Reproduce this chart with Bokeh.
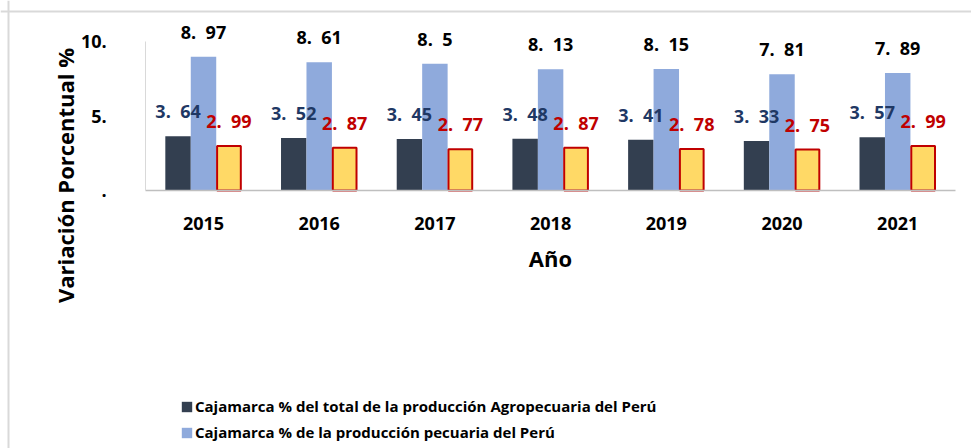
import math
from bokeh.plotting import figure
from bokeh.models import ColumnDataSource, FixedTicker, Label, Legend, LegendItem, Span, Range1d
from bokeh.transform import dodge
from bokeh.core.properties import value
from bokeh.embed import file_html
from bokeh.resources import INLINE

years = ["2015", "2016", "2017", "2018", "2019", "2020", "2021"]
agro_total = [3.64, 3.52, 3.45, 3.48, 3.41, 3.33, 3.57]
pecuaria = [8.97, 8.61, 8.5, 8.13, 8.15, 7.81, 7.89]
tercera = [2.99, 2.87, 2.77, 2.87, 2.78, 2.75, 2.99]

legend_labels = [
    "Cajamarca % del total de la producción Agropecuaria del Perú",
    "Cajamarca % de la producción pecuaria del Perú",
]
y_ticks = [0, 5, 10]
y_tick_labels = {0: ".", 5: "5.", 10: "10."}


def fmt(v):
    s = f"{v:.2f}".rstrip("0")
    a, b = s.split(".")
    return f"{a}.\u00a0\u00a0{b}"


xi = list(range(len(years)))
src = ColumnDataSource(dict(
    xi=xi,
    a=agro_total, b=pecuaria, c=tercera,
    la=[fmt(v) for v in agro_total],
    lb=[fmt(v) for v in pecuaria],
    lc=[fmt(v) for v in tercera],
))

FONT = "Open Sans"
W, H = 971, 448
# pixel geometry of the plot area on the canvas
PX_CAT = 115.7      # px per category
X0_PX = 203.0       # px of first category centre
PX_UNIT = 14.9      # px per y unit
Y0_PX = 190.0       # px of y = 0 (from top)

x_range = Range1d(-X0_PX / PX_CAT, (W - X0_PX) / PX_CAT)
y_range = Range1d(-(H - Y0_PX) / PX_UNIT, Y0_PX / PX_UNIT)

p = figure(x_range=x_range, y_range=y_range, width=W, height=H,
           output_backend="svg", toolbar_location=None,
           min_border=0, min_border_left=0, min_border_right=0,
           min_border_top=0, min_border_bottom=0)
p.outline_line_color = None
p.xgrid.grid_line_color = None
p.ygrid.grid_line_color = None

# outer chart border (left and top edges visible)
p.add_layout(Span(location=(Y0_PX - 11) / PX_UNIT, dimension="width",
                  line_color="#D9D9D9", line_width=2))
p.add_layout(Span(location=(8 - X0_PX) / PX_CAT, dimension="height",
                  line_color="#D9D9D9", line_width=2))

bw = 0.22
r1 = p.vbar(x=dodge("xi", -bw), top="a", width=bw, source=src,
            fill_color="#333F50", line_color=None)
r2 = p.vbar(x=dodge("xi", 0), top="b", width=bw, source=src,
            fill_color="#8FAADC", line_color=None)
r3 = p.vbar(x=dodge("xi", bw), top="c", width=bw - 0.015, source=src,
            fill_color="#FFD966", line_color="#C00000", line_width=2)

common = dict(source=src, text_font=value(FONT), text_font_style="bold",
              text_font_size="18px", text_align="center", text_baseline="middle",
              y_offset=-25)
p.text(x=dodge("xi", -bw), y="a", text="la", text_color="#1F3864", **common)
p.text(x=dodge("xi", 0), y="b", text="lb", text_color="#000000", **common)
p.text(x=dodge("xi", bw), y="c", text="lc", text_color="#C00000", **common)

# axes (placed inside the full-canvas frame)
yax = p.yaxis[0]
yax.fixed_location = -0.5
yax.bounds = (0, 10)
yax.ticker = FixedTicker(ticks=y_ticks)
yax.major_label_overrides = y_tick_labels
yax.major_tick_line_color = None
yax.minor_tick_line_color = None
yax.axis_line_color = "#D9D9D9"
yax.major_label_text_font = FONT
yax.major_label_text_font_style = "bold"
yax.major_label_text_font_size = "18px"
yax.major_label_text_color = "#000000"
yax.major_label_standoff = 33

xax = p.xaxis[0]
xax.fixed_location = 0
xax.bounds = (-0.5, len(years) - 0.5)
xax.ticker = FixedTicker(ticks=xi)
xax.major_label_overrides = {i: y for i, y in zip(xi, years)}
xax.major_tick_line_color = None
xax.minor_tick_line_color = None
xax.axis_line_color = "#BFBFBF"
xax.axis_line_width = 1.5
xax.major_label_text_font = FONT
xax.major_label_text_font_style = "bold"
xax.major_label_text_font_size = "18px"
xax.major_label_text_color = "#000000"
xax.major_label_standoff = 20
xax.axis_label = "Año"
xax.axis_label_text_font = FONT
xax.axis_label_text_font_style = "bold"
xax.axis_label_text_font_size = "22px"
xax.axis_label_text_color = "#000000"
xax.axis_label_standoff = 10

ylab = Label(x=64, y=H - 175, x_units="screen", y_units="screen",
             text="Variación Porcentual %", angle=math.pi / 2,
             text_font=FONT, text_font_style="bold", text_font_size="22px",
             text_color="#000000", text_align="center", text_baseline="middle")
p.add_layout(ylab)

legend = Legend(items=[LegendItem(label=legend_labels[0], renderers=[r1]),
                       LegendItem(label=legend_labels[1], renderers=[r2])],
                location=(180, H - 442), orientation="vertical")
legend.border_line_color = None
legend.background_fill_alpha = 0
legend.padding = 0
legend.margin = 0
legend.glyph_width = 13
legend.glyph_height = 13
legend.label_height = 20
legend.spacing = 6
legend.label_standoff = 2
legend.label_text_font = FONT
legend.label_text_font_style = "bold"
legend.label_text_font_size = "15px"
legend.label_text_color = "#000000"
p.add_layout(legend, "center")

open("out.html", "w").write(file_html(p, INLINE))
